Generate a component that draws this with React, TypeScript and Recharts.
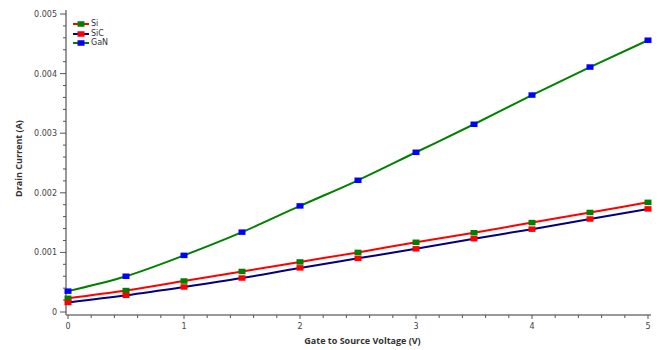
import React from 'react';
import { LineChart, Line, XAxis, YAxis, Legend } from 'recharts';

const voltage = [0, 0.5, 1, 1.5, 2, 2.5, 3, 3.5, 4, 4.5, 5];
const siCurrent = [0.00023, 0.00036, 0.00052, 0.00068, 0.00084, 0.001, 0.00117, 0.00133, 0.0015, 0.00167, 0.00184];
const sicCurrent = [0.00016, 0.00028, 0.00042, 0.00057, 0.00074, 0.0009, 0.00106, 0.00123, 0.00139, 0.00156, 0.00173];
const ganCurrent = [0.00035, 0.0006, 0.00095, 0.00134, 0.00178, 0.00221, 0.00268, 0.00315, 0.00364, 0.00411, 0.00456];

const xTicks = [0, 0.2, 0.4, 0.6, 0.8, 1, 1.2, 1.4, 1.6, 1.8, 2, 2.2, 2.4, 2.6, 2.8, 3, 3.2, 3.4, 3.6, 3.8, 4, 4.2, 4.4, 4.6, 4.8, 5];
const xLabels = ['0', '1', '2', '3', '4', '5'];
const yTicks = [0, 0.0002, 0.0004, 0.0006, 0.0008, 0.001, 0.0012, 0.0014, 0.0016, 0.0018, 0.002, 0.0022, 0.0024, 0.0026, 0.0028, 0.003, 0.0032, 0.0034, 0.0036, 0.0038, 0.004, 0.0042, 0.0044, 0.0046, 0.0048, 0.005];
const yLabels = ['0', '0.001', '0.002', '0.003', '0.004', '0.005'];

const series = [
  { key: 'Si', name: 'Si', line: '#ff0000', marker: '#008000', values: siCurrent },
  { key: 'SiC', name: 'SiC', line: '#000080', marker: '#ff0000', values: sicCurrent },
  { key: 'GaN', name: 'GaN', line: '#008000', marker: '#0000ff', values: ganCurrent },
];

const data = voltage.map((v, i) => ({
  v,
  Si: siCurrent[i],
  SiC: sicCurrent[i],
  GaN: ganCurrent[i],
}));

const tickFont = 'DejaVu Sans, Verdana, sans-serif';
const titleFont = '"Open Sans", "Liberation Sans", Arial, sans-serif';

const isMajor = (val: number) => Math.abs(val * 1000 - Math.round(val * 1000)) < 1e-6;
const isMajorX = (val: number) => Math.abs(val - Math.round(val)) < 1e-6;

const XTick = (props: any) => {
  const { x, y, payload } = props;
  const major = isMajorX(payload.value);
  const label = major ? xLabels[Math.round(payload.value)] : null;
  return (
    <g>
      <line x1={x} x2={x} y1={y} y2={y + (major ? 4 : 3)} stroke="#555" strokeWidth={1} />
      {label !== null && (
        <text x={x} y={y + 14} textAnchor="middle" fontSize={8} fill="#444" fontFamily={tickFont}>{label}</text>
      )}
    </g>
  );
};

const YTick = (props: any) => {
  const { x, y, payload } = props;
  const major = isMajor(payload.value);
  const label = major ? yLabels[Math.round(payload.value * 1000)] : null;
  return (
    <g>
      <line x1={x} x2={x - (major ? 6 : 3)} y1={y} y2={y} stroke="#555" strokeWidth={1} />
      {label !== null && (
        <text x={x - 9} y={y + 3} textAnchor="end" fontSize={8} fill="#444" fontFamily={tickFont}>{label}</text>
      )}
    </g>
  );
};

const makeDot = (color: string) => (props: any) => {
  const { cx, cy, index } = props;
  return <rect key={`d-${color}-${index}`} x={cx - 3.5} y={cy - 2.75} width={7} height={5.5} fill={color} />;
};

const LegendContent = () => (
  <div style={{ display: 'flex', flexDirection: 'column', gap: 0 }}>
    {series.map((s) => (
      <div key={s.key} style={{ display: 'flex', alignItems: 'center', height: 9.7 }}>
        <svg width={18} height={8} style={{ display: 'block' }}>
          <line x1={0} x2={16} y1={4} y2={4} stroke={s.line} strokeWidth={2} />
          <rect x={4.5} y={1.25} width={7} height={5.5} fill={s.marker} />
        </svg>
        <span style={{ fontSize: 8, fontFamily: tickFont, color: '#333', lineHeight: '8px' }}>{s.name}</span>
      </div>
    ))}
  </div>
);

export default function App() {
  return (
    <div style={{ position: 'absolute', left: 0, top: 0, width: 668, height: 350, background: '#fff' }}>
      <LineChart width={668} height={350} data={data} margin={{ top: 10, right: 17, bottom: 0, left: 0 }}>
        <XAxis
          dataKey="v"
          type="number"
          domain={[0, 5]}
          ticks={xTicks}
          interval={0}
          padding={{ left: 2, right: 3 }}
          height={35}
          tickSize={0}
          tickMargin={0}
          tickLine={false}
          tick={<XTick />}
          axisLine={{ stroke: '#777', strokeWidth: 1.5 }}
          label={{ value: 'Gate to Source Voltage (V)', position: 'insideBottom', offset: 6, dx: 4, fontSize: 9, fontWeight: 700, fill: '#333', fontFamily: titleFont }}
        />
        <XAxis
          xAxisId="top"
          dataKey="v"
          type="number"
          orientation="top"
          domain={[0, 5]}
          padding={{ left: 2, right: 3 }}
          height={0}
          tick={false}
          tickLine={false}
          axisLine={{ stroke: '#b5b5b5', strokeWidth: 1.5 }}
        />
        <YAxis
          type="number"
          domain={[0, 0.005]}
          ticks={yTicks}
          interval={0}
          padding={{ top: 4, bottom: 3 }}
          width={66}
          tickSize={0}
          tickMargin={0}
          tickLine={false}
          tick={<YTick />}
          axisLine={{ stroke: '#777', strokeWidth: 1.5 }}
          label={{ value: 'Drain Current (A)', angle: -90, position: 'insideLeft', offset: 19, dy: -4, fontSize: 9, fontWeight: 700, fill: '#333', fontFamily: titleFont, style: { textAnchor: 'middle' } }}
        />
        <YAxis
          yAxisId="right"
          orientation="right"
          type="number"
          domain={[0, 0.005]}
          padding={{ top: 4, bottom: 3 }}
          width={0}
          tick={false}
          tickLine={false}
          axisLine={{ stroke: '#b5b5b5', strokeWidth: 1.5 }}
        />
        <Legend
          layout="vertical"
          align="center"
          verticalAlign="middle"
          content={<LegendContent />}
          wrapperStyle={{ left: 73, top: 19, width: 'auto', height: 'auto' }}
        />
        {series.map((s) => (
          <Line
            key={s.key}
            dataKey={s.key}
            name={s.name}
            type="monotone"
            stroke={s.line}
            strokeWidth={2}
            dot={makeDot(s.marker)}
            activeDot={false}
            isAnimationActive={false}
          />
        ))}
      </LineChart>
    </div>
  );
}
